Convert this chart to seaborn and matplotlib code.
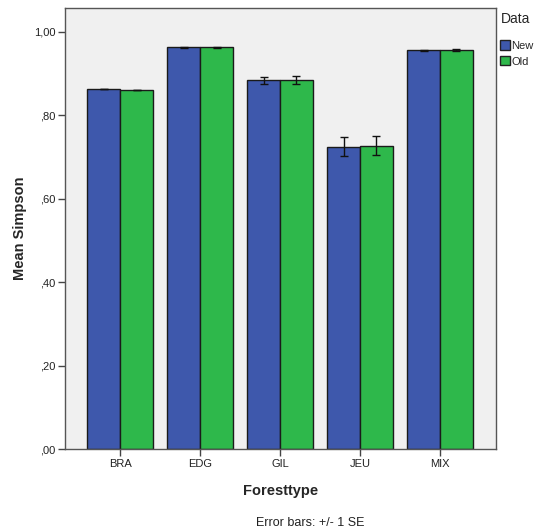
import seaborn as sns
import matplotlib.pyplot as plt
import pandas as pd
from matplotlib.ticker import FuncFormatter

foresttypes = ['BRA', 'EDG', 'GIL', 'JEU', 'MIX']
mean_new = [0.863, 0.963, 0.884, 0.725, 0.956]
mean_old = [0.861, 0.963, 0.885, 0.727, 0.957]
se_new = [0.0005, 0.002, 0.009, 0.022, 0.002]
se_old = [0.0005, 0.002, 0.009, 0.023, 0.002]

df = pd.DataFrame({
    'Foresttype': foresttypes * 2,
    'Data': ['New'] * 5 + ['Old'] * 5,
    'Mean': mean_new + mean_old,
    'SE': se_new + se_old,
})

sns.set_style('ticks')
plt.rcParams['font.family'] = ['Liberation Sans', 'DejaVu Sans']

fig = plt.figure(figsize=(5.35, 5.31), dpi=100)
ax = fig.add_axes([0.1215, 0.1544, 0.8055, 0.8306])
ax.set_facecolor('#f0f0f0')

palette = {'New': '#3e58ac', 'Old': '#2eb84b'}
sns.barplot(data=df, x='Foresttype', y='Mean', hue='Data', palette=palette,
            width=0.82, gap=0, errorbar=None, edgecolor='#1a1a1a',
            linewidth=1.0, saturation=1, ax=ax)

# error bars (+/- 1 SE) at bar centres
for container, grp in zip(ax.containers, ['New', 'Old']):
    sub = df[df['Data'] == grp]
    xs = [p.get_x() + p.get_width() / 2 for p in container.patches]
    ax.errorbar(xs, sub['Mean'], yerr=sub['SE'], fmt='none', ecolor='#111111',
                elinewidth=1.0, capsize=3, capthick=1.0, zorder=5)

ax.set_ylim(0, 1.0576)
ax.set_xlim(-0.69, 4.70)
ax.set_yticks([0, 0.2, 0.4, 0.6, 0.8, 1.0])
ax.yaxis.set_major_formatter(FuncFormatter(
    lambda v, p: ('%.2f' % v).replace('0.', ',').replace('1.', '1,')))
ax.tick_params(axis='both', direction='out', length=5, width=1,
               color='#444444', labelsize=8, labelcolor='#222222', pad=2)
for s in ax.spines.values():
    s.set_visible(True)
    s.set_color('#555555')
    s.set_linewidth(1.0)

ax.set_xlabel('Foresttype', fontsize=10.5, fontweight='bold', labelpad=11)
ax.set_ylabel('Mean Simpson', fontsize=10.5, fontweight='bold', labelpad=5)

leg = ax.legend(title='Data', loc='upper left', bbox_to_anchor=(1.0, 1.0),
                frameon=False, fontsize=8, title_fontsize=10,
                handlelength=0.85, handleheight=0.95, handletextpad=0.15,
                labelspacing=0.45, borderaxespad=0.1, borderpad=0.3)
leg._legend_box.align = 'left'
leg._legend_box.sep = 10
for h in leg.legend_handles:
    h.set_edgecolor('#222222')

fig.text(0.58, 0.003, 'Error bars: +/- 1 SE', ha='center', va='bottom',
         fontsize=9, color='#222222')

fig.savefig('out.png', dpi=100)
